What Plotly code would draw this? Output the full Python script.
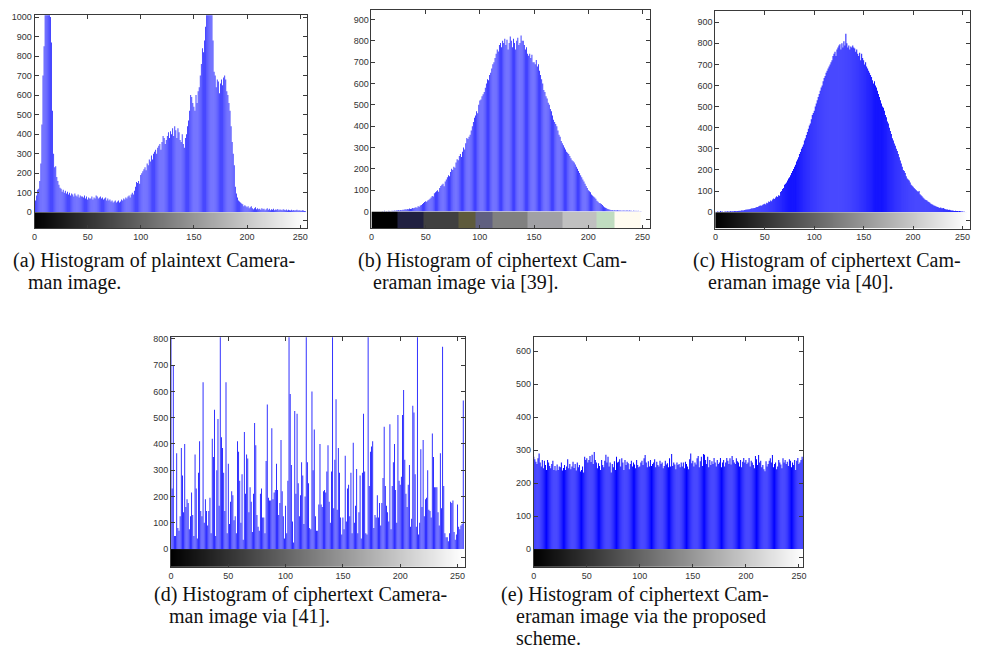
import plotly.graph_objects as go

W, H = 997, 666

# ---------------- data ----------------
bins = list(range(256))
x_ticks = [0, 50, 100, 150, 200, 250]

# (a) plaintext Cameraman
hist_a = [
    40, 60, 85, 115, 120, 160, 250, 450, 700, 850,
    1050, 1300, 1500, 1450, 1200, 1000, 870, 520, 300, 230,
    235, 180, 160, 140, 125, 120, 105, 115, 100, 110,
    95, 105, 90, 100, 85, 95, 90, 80, 95, 85,
    80, 90, 75, 85, 80, 80, 75, 85, 70, 80,
    65, 75, 70, 70, 80, 65, 75, 70, 85, 80,
    70, 75, 80, 70, 75, 65, 70, 75, 60, 70,
    60, 65, 55, 60, 50, 55, 60, 50, 55, 60,
    50, 55, 65, 60, 70, 65, 75, 70, 80, 85,
    75, 90, 100, 90, 110, 130, 155, 150, 160, 145,
    190, 200, 210, 220, 230, 215, 250, 240, 270, 260,
    290, 270, 300, 310, 320, 300, 330, 340, 350, 320,
    360, 390, 380, 350, 370, 390, 410, 380, 415, 400,
    430, 390, 440, 420, 380, 430, 410, 370, 360, 400,
    350, 330, 380, 400, 440, 470, 520, 600, 590, 560,
    540, 520, 600, 560, 620, 640, 700, 760, 840, 820,
    880, 950, 1100, 1300, 1400, 1350, 1200, 1050, 880, 720,
    700, 640, 680, 670, 610, 660, 680, 650, 690, 700,
    680, 620, 600, 560, 520, 440, 360, 300, 240, 130,
    95, 75, 60, 55, 50, 45, 40, 30, 35, 30,
    25, 30, 20, 25, 30, 20, 15, 20, 25, 15,
    20, 15, 18, 12, 20, 15, 18, 10, 15, 20,
    12, 18, 10, 15, 12, 18, 10, 14, 12, 16,
    10, 14, 12, 10, 15, 12, 10, 13, 9, 12,
    10, 8, 12, 9, 11, 8, 10, 12, 8, 10,
    9, 7, 10, 8, 6, 5,
]

# (b) ciphertext via [39]
hist_b = [
    0, 0, 0, 0, 0, 0, 0, 0, 0, 0,
    2, 0, 3, 0, 2, 0, 3, 2, 0, 3,
    2, 4, 3, 5, 4, 6, 5, 7, 6, 8,
    8, 10, 9, 12, 10, 14, 12, 13, 16, 15,
    18, 20, 17, 24, 22, 28, 30, 35, 40, 44,
    48, 45, 52, 55, 60, 65, 72, 70, 85, 90,
    95, 100, 92, 110, 120, 125, 130, 118, 140, 150,
    160, 170, 165, 185, 200, 195, 210, 205, 230, 245,
    240, 260, 270, 255, 280, 300, 290, 320, 345, 340,
    350, 360, 380, 400, 420, 440, 450, 470, 460, 500,
    520, 525, 540, 550, 560, 580, 600, 620, 615, 640,
    650, 670, 690, 700, 720, 740, 760, 750, 780, 790,
    770, 800, 790, 810, 780, 805, 760, 790, 820, 800,
    770, 810, 790, 760, 800, 815, 780, 790, 825, 800,
    800, 780, 760, 770, 740, 730, 740, 720, 735, 700,
    700, 690, 710, 680, 690, 660, 640, 620, 600, 570,
    560, 540, 530, 510, 500, 480, 470, 450, 430, 420,
    410, 400, 380, 360, 350, 330, 320, 310, 300, 290,
    280, 275, 270, 260, 250, 240, 235, 230, 220, 210,
    200, 190, 180, 170, 160, 150, 140, 130, 120, 110,
    100, 95, 90, 80, 75, 70, 65, 60, 50, 45,
    40, 38, 35, 30, 25, 20, 18, 15, 12, 10,
    8, 6, 7, 5, 6, 4, 5, 6, 4, 5,
    4, 3, 5, 4, 3, 4, 5, 3, 4, 3,
    3, 2, 4, 2, 3, 2, 3, 1, 2, 1,
    0, 0, 0, 0, 0, 0,
]

# (c) ciphertext via [40]
hist_c = [
    2, 1, 3, 2, 1, 5, 2, 3, 1, 2,
    3, 2, 4, 3, 2, 5, 3, 4, 3, 5,
    5, 4, 6, 5, 7, 6, 8, 9, 7, 10,
    10, 12, 11, 14, 13, 15, 16, 18, 17, 20,
    20, 22, 25, 24, 28, 30, 32, 30, 35, 38,
    40, 36, 45, 42, 50, 48, 55, 52, 60, 65,
    62, 70, 75, 72, 80, 78, 95, 100, 110, 115,
    130, 135, 140, 150, 160, 165, 175, 185, 195, 205,
    215, 225, 240, 250, 260, 275, 285, 300, 310, 320,
    340, 350, 365, 380, 395, 410, 420, 440, 460, 470,
    480, 500, 515, 530, 545, 560, 575, 590, 600, 620,
    635, 645, 660, 670, 680, 690, 700, 710, 720, 740,
    750, 760, 740, 770, 780, 790, 795, 770, 800, 780,
    810, 790, 845, 800, 780, 790, 770, 785, 780, 790,
    780, 775, 760, 770, 750, 740, 755, 720, 750, 730,
    720, 700, 710, 690, 680, 670, 660, 650, 640, 625,
    610, 620, 600, 590, 575, 560, 545, 530, 515, 500,
    495, 480, 460, 450, 430, 420, 400, 385, 370, 350,
    340, 325, 315, 300, 290, 275, 260, 245, 230, 215,
    200, 195, 185, 170, 160, 155, 150, 140, 130, 125,
    120, 115, 110, 105, 100, 95, 100, 85, 80, 75,
    70, 65, 60, 58, 55, 50, 48, 45, 40, 38,
    35, 32, 30, 28, 26, 25, 22, 20, 22, 18,
    18, 20, 15, 14, 12, 13, 10, 11, 9, 8,
    8, 7, 6, 7, 5, 6, 4, 5, 4, 3,
    3, 2, 2, 1, 1, 0,
]

# (d) ciphertext via [41]
hist_d = [
    1100, 230, 700, 50, 50, 365, 80, 70, 125, 385,
    280, 140, 400, 160, 190, 175, 75, 125, 215, 130,
    50, 360, 230, 40, 290, 410, 145, 125, 635, 100,
    190, 145, 90, 145, 195, 60, 420, 350, 530, 50,
    300, 495, 165, 1000, 425, 385, 290, 145, 635, 60,
    325, 95, 180, 220, 205, 110, 125, 60, 410, 370,
    260, 100, 285, 35, 445, 210, 360, 345, 140, 235,
    180, 65, 210, 480, 395, 130, 85, 70, 210, 230,
    120, 120, 60, 335, 550, 195, 185, 185, 460, 190,
    215, 225, 325, 225, 130, 175, 415, 220, 125, 40,
    165, 60, 260, 1000, 590, 320, 105, 25, 525, 210,
    515, 250, 125, 205, 330, 280, 95, 200, 1000, 330,
    250, 80, 75, 600, 300, 455, 125, 70, 70, 170,
    400, 170, 160, 220, 225, 215, 295, 395, 180, 100,
    295, 1000, 155, 340, 570, 150, 385, 290, 120, 55,
    120, 75, 355, 105, 230, 245, 125, 290, 60, 405,
    100, 165, 305, 60, 140, 280, 40, 290, 515, 295,
    60, 55, 1000, 240, 370, 390, 410, 80, 130, 120,
    205, 120, 175, 90, 175, 270, 465, 240, 165, 140,
    105, 475, 75, 240, 330, 400, 225, 100, 510, 260,
    245, 275, 510, 605, 340, 210, 160, 245, 320, 85,
    115, 545, 520, 285, 85, 1000, 55, 100, 380, 160,
    415, 125, 190, 195, 300, 150, 145, 120, 440, 350,
    235, 235, 235, 140, 90, 365, 155, 770, 240, 60,
    45, 45, 30, 60, 180, 175, 185, 65, 35, 55,
    170, 85, 75, 90, 95, 565,
]

# (e) ciphertext via the proposed scheme
hist_e = [
    280, 272, 265, 258, 275, 290, 262, 250, 270, 245,
    268, 255, 240, 270, 262, 252, 245, 258, 268, 240,
    252, 238, 256, 240, 250, 248, 262, 238, 246, 255,
    240, 250, 272, 245, 258, 242, 250, 265, 246, 258,
    238, 262, 248, 255, 235, 240, 250, 232, 280, 270,
    275, 262, 270, 282, 264, 286, 258, 294, 270, 262,
    245, 260, 252, 240, 270, 255, 248, 268, 286, 262,
    280, 250, 262, 232, 258, 248, 266, 240, 280, 262,
    265, 272, 250, 275, 262, 240, 270, 255, 265, 260,
    242, 258, 268, 250, 262, 256, 245, 270, 255, 248,
    250, 262, 268, 255, 275, 285, 262, 248, 266, 250,
    270, 252, 258, 262, 272, 248, 265, 255, 250, 268,
    258, 262, 245, 252, 268, 256, 260, 248, 275, 250,
    288, 252, 262, 256, 242, 262, 255, 258, 248, 262,
    250, 262, 245, 265, 258, 250, 242, 272, 290, 260,
    268, 250, 262, 256, 275, 282, 248, 266, 280, 252,
    288, 286, 270, 258, 280, 248, 270, 255, 266, 258,
    276, 262, 250, 270, 258, 262, 276, 248, 262, 270,
    250, 262, 276, 268, 258, 275, 256, 282, 270, 262,
    258, 275, 266, 262, 250, 270, 248, 265, 276, 262,
    270, 258, 262, 276, 250, 268, 262, 255, 245, 282,
    272, 255, 285, 262, 268, 248, 255, 242, 236, 266,
    250, 258, 268, 275, 262, 285, 248, 258, 262, 242,
    250, 270, 262, 256, 245, 275, 262, 270, 258, 265,
    252, 272, 268, 248, 262, 255, 270, 240, 268, 276,
    258, 262, 270, 280, 272, 225,
]

# colour map blocks shown under panel (b)
cmap_b_edges = [0, 24, 48, 80, 96, 112, 144, 176, 208, 224, 248, 257]
cmap_b_colors = ['#000000', '#202040', '#404040', '#5e5a3c', '#606080', '#808080',
                 '#a0a0a4', '#c0c0c0', '#c0dcc0', '#fffbf0', '#ffffff']

captions = [
    ["(a) Histogram of plaintext Camera-", "man image."],
    ["(b) Histogram of ciphertext Cam-", "eraman image via [39]."],
    ["(c) Histogram of ciphertext Cam-", "eraman image via [40]."],
    ["(d) Histogram of ciphertext Camera-", "man image via [41]."],
    ["(e) Histogram of ciphertext Cam-", "eraman image via the proposed", "scheme."],
]

# ---------------- layout (pixel boxes) ----------------
# (left, right, top, zero line, bottom of colour strip), y-max, x-max, dtick, bar colour, bar width
panels = [
    dict(vals=hist_a, box=(31.7, 306, 12.3, 211.7, 228), ymax=1010, xmax=256.6, dtick=100, color='#2828ff', bw=0.8),
    dict(vals=hist_b, box=(370.7, 651, 7, 211, 228), ymax=945, xmax=257, dtick=100, color='#2424ff', bw=0.8),
    dict(vals=hist_c, box=(716.7, 973.3, 8.3, 211.7, 228.3), ymax=952, xmax=258, dtick=100, color='#0000ff', bw=0.93),
    dict(vals=hist_d, box=(169, 465, 338.3, 552.7, 570.7), ymax=806, xmax=256.7, dtick=100, color='#1010ff', bw=0.75),
    dict(vals=hist_e, box=(534, 805, 338.3, 552.7, 570.7), ymax=642, xmax=254, dtick=100, color='#0000ff', bw=0.93),
]
cap_pos = [(8, 261), (355, 261), (692, 261), (150, 599), (499, 599)]
cap_indent = 15
cap_line = 22

tick_font = dict(family='Liberation Sans, Arial, sans-serif', size=9, color='#333333')
line_col = '#3a3a3a'

fig = go.Figure()
layout = dict(width=W, height=H, margin=dict(l=0, r=0, t=0, b=0), autosize=False,
              paper_bgcolor='white', plot_bgcolor='white', showlegend=False,
              annotations=[])

for i, p in enumerate(panels):
    L, R, T, Z, B = p['box']
    hx, hy = 2 * i + 1, 2 * i + 1
    cx, cy = 2 * i + 2, 2 * i + 2
    xd = [L / W, R / W]
    fig.add_trace(go.Bar(x=bins, y=p['vals'], width=p['bw'],
                         marker=dict(color=p['color'], line=dict(width=0)),
                         xaxis=f'x{hx}', yaxis=f'y{hy}', hoverinfo='skip'))
    if i == 1:
        fig.add_trace(go.Heatmap(z=[list(range(len(cmap_b_colors)))], x=cmap_b_edges, y=[0, 1],
                                 zmin=0, zmax=len(cmap_b_colors) - 1,
                                 colorscale=[[k / (len(cmap_b_colors) - 1), c] for k, c in enumerate(cmap_b_colors)],
                                 showscale=False, xaxis=f'x{cx}', yaxis=f'y{cy}', hoverinfo='skip'))
    else:
        fig.add_trace(go.Heatmap(z=[bins], x=bins, y=[0, 1], zmin=0, zmax=255,
                                 colorscale=[[0, '#000000'], [1, '#ffffff']],
                                 showscale=False, xaxis=f'x{cx}', yaxis=f'y{cy}', hoverinfo='skip'))
    # histogram axes
    layout[f'xaxis{hx}'] = dict(domain=xd, range=[0, p['xmax']], side='top', anchor=f'y{hy}',
                               showline=True, linecolor=line_col, linewidth=1, mirror=False,
                               ticks='inside', ticklen=4, tickcolor=line_col, tickvals=x_ticks,
                               showticklabels=False, showgrid=False, zeroline=False, fixedrange=True)
    layout[f'yaxis{hy}'] = dict(domain=[1 - Z / H, 1 - T / H], range=[0, p['ymax']], anchor=f'x{hx}',
                               showline=True, linecolor=line_col, linewidth=1, mirror='ticks',
                               ticks='inside', ticklen=4, tickcolor=line_col, dtick=p['dtick'], tick0=0,
                               tickfont=tick_font, showgrid=False, zeroline=False, fixedrange=True)
    # colour strip axes
    layout[f'xaxis{cx}'] = dict(domain=xd, range=[0, p['xmax']], side='bottom', anchor=f'y{cy}',
                               showline=True, linecolor=line_col, linewidth=1, mirror=False,
                               ticks='inside', ticklen=3, tickcolor=line_col, tickvals=x_ticks,
                               tickfont=tick_font, showgrid=False, zeroline=False, fixedrange=True)
    layout[f'yaxis{cy}'] = dict(domain=[1 - B / H, 1 - Z / H], range=[0, 1], anchor=f'x{cx}', side='right',
                               showline=True, linecolor=line_col, linewidth=1, mirror=True,
                               ticks='inside', ticklen=4, tickcolor=line_col, tickvals=[0.5],
                               showticklabels=False, showgrid=False, zeroline=False, fixedrange=True)
    # caption
    cx0, cy0 = cap_pos[i]
    for j, txt in enumerate(captions[i]):
        layout['annotations'].append(dict(
            text=txt, xref='paper', yref='paper', showarrow=False,
            x=(cx0 + (cap_indent if j > 0 else 0)) / W, y=1 - (cy0 + j * cap_line) / H,
            xanchor='left', yanchor='middle',
            font=dict(family='Liberation Serif, Times New Roman, serif', size=20, color='#111111')))

fig.update_layout(**layout)
fig.write_html('out.html', config={'displayModeBar': False, 'staticPlot': True},
               post_script="document.body.style.margin='0px';document.body.style.overflow='hidden';")
